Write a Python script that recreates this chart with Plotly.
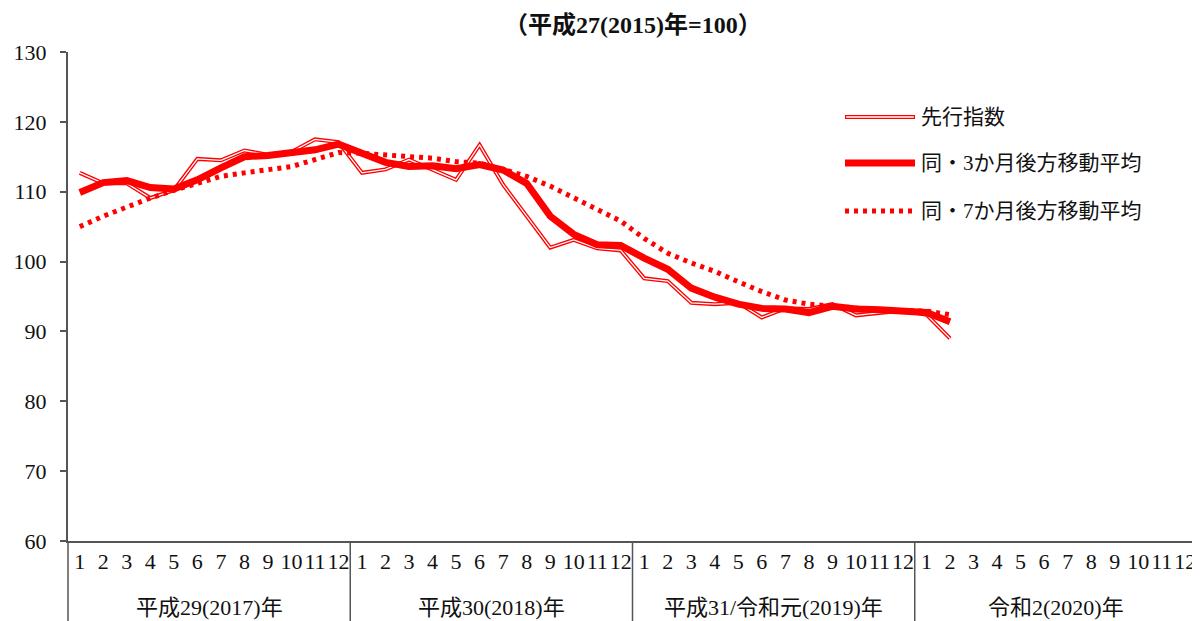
import plotly.graph_objects as go

years = ["平成29(2017)年", "平成30(2018)年", "平成31/令和元(2019)年", "令和2(2020)年"]
months = [str(m) for m in range(1, 13)]
month_labels = months * len(years)
n_cat = len(month_labels)

leading = [112.7, 111.2, 111.2, 109.1, 110.2, 114.7, 114.5, 115.9, 115.3, 115.7, 117.5, 117.1,
           112.7, 113.2, 114.6, 113.1, 111.7, 116.7, 111.0, 106.5, 102.0, 103.1, 101.9, 101.6,
           97.6, 97.2, 94.1, 93.9, 94.1, 92.0, 93.3, 93.2, 93.9, 92.3, 92.7, 93.0,
           92.4, 89.0]
ma3 = [109.9, 111.3, 111.6, 110.6, 110.4, 111.7, 113.4, 115.0, 115.2, 115.5, 116.0, 116.8,
       115.5, 114.2, 113.6, 113.7, 113.3, 113.9, 113.1, 111.2, 106.5, 103.9, 102.4, 102.3,
       100.5, 98.9, 96.2, 94.9, 93.9, 93.3, 93.2, 92.7, 93.6, 93.2, 93.1, 92.9,
       92.7, 91.4]
ma7 = [105.0, 106.5, 107.8, 109.1, 110.2, 111.2, 112.2, 112.7, 113.1, 113.6, 114.6, 115.6,
       115.5, 115.3, 115.0, 114.8, 114.3, 114.1, 113.2, 112.2, 110.8, 109.1, 107.4, 105.8,
       103.3, 101.2, 99.8, 98.6, 97.1, 95.7, 94.5, 93.9, 93.6, 93.3, 93.1, 93.0,
       92.9, 92.4]

legend_names = ["先行指数", "同・3か月後方移動平均", "同・7か月後方移動平均"]
title_text = "（平成27(2015)年=100）"
y_ticks = [60, 70, 80, 90, 100, 110, 120, 130]

RED = "#FF0000"
AXIS = "#555555"
FONT = "Liberation Serif, Noto Sans CJK JP"
FS = 22

x_idx = list(range(len(leading)))

fig = go.Figure()
fig.add_trace(go.Scatter(x=x_idx, y=leading, mode="lines",
                         line=dict(color=RED, width=4), showlegend=False, hoverinfo="skip"))
fig.add_trace(go.Scatter(x=x_idx, y=leading, mode="lines",
                         line=dict(color="white", width=1.3), showlegend=False, hoverinfo="skip"))
fig.add_trace(go.Scatter(x=x_idx, y=ma7, mode="lines",
                         line=dict(color=RED, width=5, dash="4px,5px"), showlegend=False))
fig.add_trace(go.Scatter(x=x_idx, y=ma3, mode="lines",
                         line=dict(color=RED, width=7), showlegend=False))

# page body has an 8px margin: figure is placed at (8, 8)
OFF = 8
W, H = 1200 - OFF, 621 - OFF
L, R, T, B = 68 - OFF, 3, 52 - OFF, 80
ph = H - T - B
pw = W - L - R

shapes = []
annotations = []
yb = -B / ph
for i in range(len(years)):
    xp = i * 12 / n_cat
    shapes.append(dict(type="line", xref="paper", yref="paper", x0=xp, x1=xp, y0=0, y1=yb,
                       line=dict(color=AXIS, width=1.5)))
    annotations.append(dict(text=years[i], xref="paper", yref="paper",
                            x=(i * 12 + 6) / n_cat, y=-66 / ph, showarrow=False,
                            font=dict(family=FONT, size=FS, color="#111111"),
                            xanchor="center", yanchor="middle"))

# manual legend (page pixel positions converted to paper fractions)
def px_x(x):
    return (x - OFF - L) / pw

def px_y(y):
    return (T + ph - (y - OFF)) / ph

lx0, lx1, ltx = px_x(845), px_x(915), px_x(919)
rows = [px_y(117), px_y(163), px_y(211)]
shapes.append(dict(type="line", xref="paper", yref="paper", x0=lx0, x1=lx1, y0=rows[0], y1=rows[0],
                   line=dict(color=RED, width=4)))
shapes.append(dict(type="line", xref="paper", yref="paper", x0=lx0 + 0.001, x1=lx1 - 0.001, y0=rows[0], y1=rows[0],
                   line=dict(color="white", width=1.3)))
shapes.append(dict(type="line", xref="paper", yref="paper", x0=lx0, x1=lx1, y0=rows[1], y1=rows[1],
                   line=dict(color=RED, width=7)))
shapes.append(dict(type="line", xref="paper", yref="paper", x0=lx0, x1=lx1, y0=rows[2], y1=rows[2],
                   line=dict(color=RED, width=5, dash="4px,5px")))
for name, ry in zip(legend_names, rows):
    annotations.append(dict(text=name, xref="paper", yref="paper", x=ltx, y=ry, showarrow=False,
                            xanchor="left", yanchor="middle",
                            font=dict(family=FONT, size=21, color="#111111")))

annotations.append(dict(text="<b>" + title_text + "</b>", xref="paper", yref="paper", x=0.5,
                        y=px_y(25), showarrow=False, xanchor="center", yanchor="middle",
                        font=dict(family=FONT, size=24, color="#111111")))

fig.update_layout(
    width=W, height=H,
    margin=dict(l=L, r=R, t=T, b=B, autoexpand=False),
    plot_bgcolor="white", paper_bgcolor="white",
    shapes=shapes, annotations=annotations,
    showlegend=False,
    xaxis=dict(range=[-0.5, n_cat - 0.5], tickmode="array", tickvals=list(range(n_cat)),
               ticktext=month_labels, ticks="", showgrid=False, zeroline=False,
               showline=True, linecolor=AXIS, linewidth=2,
               tickfont=dict(family=FONT, size=FS, color="#111111"), tickangle=0),
    yaxis=dict(range=[60, 130], tickmode="array", tickvals=y_ticks, ticks="outside", ticklen=6,
               tickcolor=AXIS, tickwidth=1.5, showgrid=False, zeroline=False,
               showline=True, linecolor=AXIS, linewidth=2, ticklabelstandoff=9,
               tickfont=dict(family=FONT, size=FS, color="#111111")),
)

fig.write_html("out.html")
